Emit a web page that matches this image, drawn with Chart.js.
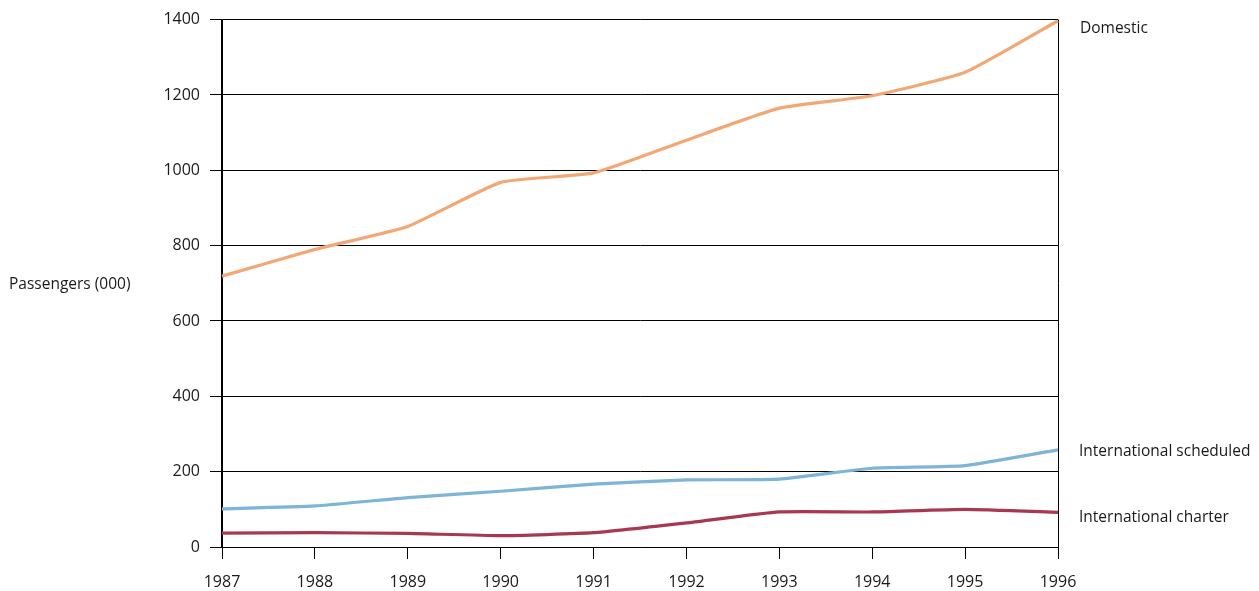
<!DOCTYPE html>
<html>
<head>
<meta charset="utf-8">
<script src="https://cdn.jsdelivr.net/npm/chart.js@4"></script>
<style>
html,body{margin:0;padding:0;background:#fff;}
#wrap{width:1259px;height:591px;position:relative;}
</style>
</head>
<body>
<div id="wrap"><canvas id="c" width="1259" height="591"></canvas></div>
<script>
const years = ['1987','1988','1989','1990','1991','1992','1993','1994','1995','1996'];
const domestic = [719, 790, 851, 968, 993, 1080, 1165, 1198, 1260, 1397];
const intlScheduled = [101, 109, 131, 148, 167, 178, 180, 209, 216, 258];
const intlCharter = [37, 38, 36, 30, 38, 64, 93, 93, 100, 92];
const yTicks = [0, 200, 400, 600, 800, 1000, 1200, 1400];
const seriesNames = ['Domestic', 'International scheduled', 'International charter'];
const yTitle = 'Passengers (000)';

const FONT = '"Open Sans", "Noto Sans", sans-serif';

const labelPlugin = {
  id: 'labels',
  afterDraw(chart) {
    const ctx = chart.ctx;
    const y = chart.scales.y;
    const area = chart.chartArea;
    ctx.save();
    ctx.fillStyle = '#1a1a1a';
    ctx.textBaseline = 'middle';
    ctx.textAlign = 'left';
    ctx.font = '15.5px ' + FONT;
    ctx.fillText(yTitle, 9, (area.top + area.bottom) / 2 + 1);
    const lasts = [domestic[domestic.length-1], intlScheduled[intlScheduled.length-1], intlCharter[intlCharter.length-1]];
    const offs = [8, 2, 5];
    const xs = [area.right + 22, area.right + 21, area.right + 21];
    seriesNames.forEach((n, i) => {
      ctx.fillText(n, xs[i], y.getPixelForValue(lasts[i]) + offs[i]);
    });
    ctx.restore();
  }
};

new Chart(document.getElementById('c'), {
  type: 'line',
  data: {
    labels: years,
    datasets: [
      { label: seriesNames[0], data: domestic, borderColor: '#f2a774', borderWidth: 3.2, pointRadius: 0, tension: 0.15 },
      { label: seriesNames[1], data: intlScheduled, borderColor: '#7db4d8', borderWidth: 3.2, pointRadius: 0, tension: 0.15 },
      { label: seriesNames[2], data: intlCharter, borderColor: '#a8384f', borderWidth: 3.2, pointRadius: 0, tension: 0.15 }
    ]
  },
  options: {
    responsive: false,
    animation: false,
    layout: { padding: { left: 0, right: 201, top: 19, bottom: 0 } },
    plugins: { legend: { display: false }, tooltip: { enabled: false } },
    scales: {
      x: {
        type: 'category',
        offset: false,
        afterFit(s) { s.height = 44; },
        grid: {
          drawOnChartArea: true,
          color: c => (c.index === 0 || c.index === years.length - 1) ? '#000' : 'rgba(0,0,0,0)',
          tickColor: '#000',
          tickLength: 12,
          lineWidth: 1
        },
        border: { display: true, color: '#000' },
        ticks: { color: '#1a1a1a', font: { family: FONT, size: 16 }, padding: 14, maxRotation: 0, autoSkip: false }
      },
      y: {
        min: 0, max: 1400,
        afterFit(s) { s.width = 222; },
        afterBuildTicks(s) { s.ticks = yTicks.map(v => ({ value: v })); },
        grid: { color: '#000', tickColor: '#000', tickLength: 12, lineWidth: 1 },
        border: { display: true, color: '#000', width: 1.5 },
        ticks: { color: '#1a1a1a', font: { family: FONT, size: 16 }, padding: 10, callback: v => String(v) }
      }
    }
  },
  plugins: [labelPlugin]
});
</script>
</body>
</html>
